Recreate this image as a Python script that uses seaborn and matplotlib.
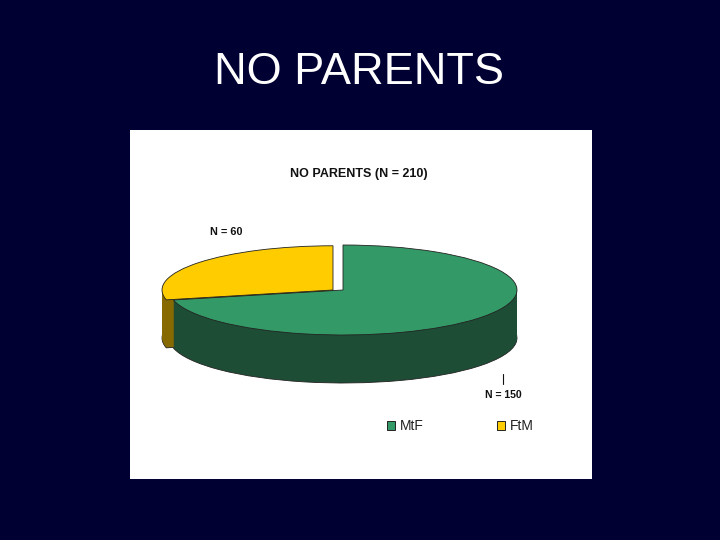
import matplotlib
matplotlib.use('Agg')
import matplotlib.pyplot as plt
import seaborn as sns

categories = ['MtF', 'FtM']
counts = [150, 60]
total = 210
top_colors = ['#339966', '#FFCC00']
side_colors = ['#1E4D35', '#866A00']

sns.set_theme(style='white')
plt.rcParams['font.family'] = ['Liberation Sans', 'DejaVu Sans']

W, H = 720, 540
fig = plt.figure(figsize=(W / 100, H / 100), dpi=100, facecolor='#000033')
fig.text(359 / W, 1 - 73 / H, 'NO PARENTS', color='white', fontsize=32.5, ha='center', va='center')

# white panel, pie drawn in it with squashed y axis to get the tilted look
px0, px1, py0, py1 = 130, 592, 130, 479
ax = fig.add_axes([px0 / W, 1 - py1 / H, (px1 - px0) / W, (py1 - py0) / H], facecolor='white')

rx, ry = 174, 45
cx, cy = 343, 290
gap = 10
depth = 48
start = 90 + 360 * counts[1] / sum(counts)


def draw_layer(d, colors, edge=None):
    wedges, _ = ax.pie(counts, colors=colors, startangle=start, radius=1, center=(0, -d / ry),
                       wedgeprops={'linewidth': 0.6 if edge else 0, 'edgecolor': edge or 'none'})
    wedges[1].set_center((-gap / rx, -d / ry))
    wedges[1].set_radius(171 / rx)
    # FtM goes under MtF
    wedges[1].set_zorder(1.1 if d == 0 else 0.5)
    wedges[0].set_zorder(1 if d == 0 else 0.9)
    return wedges


draw_layer(depth, side_colors, edge='#222222')
for d in range(depth - 1, 0, -1):
    draw_layer(d, side_colors)
top = draw_layer(0, top_colors, edge='#222222')

ax.set_aspect('auto')
ax.set_xlim((px0 - cx) / rx, (px1 - cx) / rx)
ax.set_ylim((cy - py1) / ry, (cy - py0) / ry)
ax.set_xticks([])
ax.set_yticks([])
ax.set_frame_on(True)
ax.patch.set_visible(True)
for s in ax.spines.values():
    s.set_visible(False)


def to_ax(x, y):
    return (x - px0) / (px1 - px0), 1 - (y - py0) / (py1 - py0)


bold = {'fontweight': 'bold', 'color': '#111111', 'va': 'center', 'ha': 'center', 'transform': ax.transAxes}
ax.text(*to_ax(359, 174), f'NO PARENTS (N = {total})', fontsize=9, **bold)
ax.text(*to_ax(226, 232), f'N = {counts[1]}', fontsize=7.8, **bold)
ax.text(*to_ax(503, 395), f'N = {counts[0]}', fontsize=7.6, **bold)

# leader line for the MtF label
xa, ya = to_ax(503, 374)
xb, yb = to_ax(503, 384)
ax.plot([xa, xb], [ya, yb], color='#111111', lw=0.8, transform=ax.transAxes)

handles = [plt.Rectangle((0, 0), 1, 1, fc=c, ec='#222222', lw=0.7) for c in top_colors]
ax.legend(handles, categories, ncol=2, loc='center left', bbox_to_anchor=to_ax(377, 426), frameon=False,
          fontsize=10, handlelength=0.6, handleheight=0.6, handletextpad=0.35, columnspacing=5.25,
          labelcolor='#222222', borderpad=0.2)

fig.savefig('out.png', dpi=100, facecolor=fig.get_facecolor())
